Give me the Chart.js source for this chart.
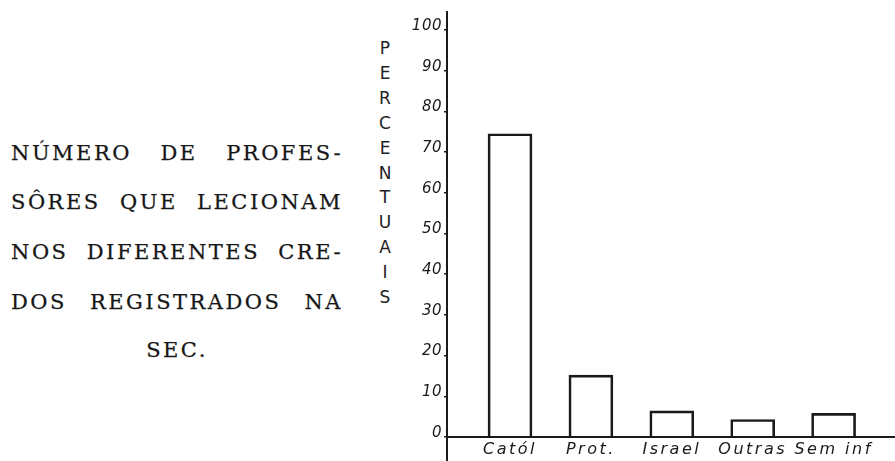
<!DOCTYPE html>
<html>
<head>
<meta charset="utf-8">
<script src="https://cdn.jsdelivr.net/npm/chart.js@4.4.0/dist/chart.umd.min.js"></script>
<style>
  html, body { margin: 0; padding: 0; background: #fff; }
  #wrap { position: relative; width: 895px; height: 461px; overflow: hidden; }
  #grafico { position: absolute; left: 0; top: 0; }
  .titulo {
    position: absolute; left: 11px; width: 332px; height: 24px;
    font-family: "DejaVu Serif", serif; font-size: 21px; line-height: 24px;
    letter-spacing: 2.5px; color: #161616; -webkit-text-stroke: 0.25px #161616;
    text-align: justify; text-align-last: justify; white-space: nowrap;
  }
  .titulo.ultima { text-align: center; text-align-last: center; }
  #eixo-titulo {
    position: absolute; left: 374px; top: 36px; width: 22px;
    font-family: "DejaVu Sans", sans-serif; font-size: 17px; line-height: 24.9px;
    text-align: center; color: #222;
  }
</style>
</head>
<body>
<div id="wrap">
  <div class="titulo" style="top:141px">NÚMERO DE PROFES-</div>
  <div class="titulo" style="top:190px">SÔRES QUE LECIONAM</div>
  <div class="titulo" style="top:240px">NOS DIFERENTES CRE-</div>
  <div class="titulo" style="top:290px">DOS REGISTRADOS NA</div>
  <div class="titulo ultima" style="top:338px">SEC.</div>
  <div id="eixo-titulo">P<br>E<br>R<br>C<br>E<br>N<br>T<br>U<br>A<br>I<br>S</div>
  <canvas id="grafico" width="895" height="461"></canvas>
</div>
<script>
// dados
const categorias = ['Catól', 'Prot.', 'Israel', 'Outras', 'Sem inf'];
const percentuais = [74.5, 15.2, 6.4, 4.3, 5.8];
const marcasY = [0, 10, 20, 30, 40, 50, 60, 70, 80, 90, 100];

const xMin = 0.221;
const xMax = 5.759;

// espaco entre letras so nos rotulos de baixo (desenhados depois das barras)
const espacamento = {
    id: 'espacamento',
    beforeDraw(chart) { chart.ctx.letterSpacing = '0.5px'; },
    afterDatasetsDraw(chart) { chart.ctx.letterSpacing = '2.5px'; }
};

const ctx = document.getElementById('grafico').getContext('2d');
const grafico = new Chart(ctx, {
    type: 'bar',
    data: {
        datasets: [{
            data: categorias.map((c, i) => ({ x: i + 1, y: percentuais[i] })),
            backgroundColor: 'rgba(255, 255, 255, 0)',
            borderColor: '#1a1a1a',
            borderWidth: 2,
            borderSkipped: 'bottom',
            barThickness: 44
        }]
    },
    options: {
        responsive: false,
        animation: false,
        layout: { padding: { top: 12, left: 0, right: 0, bottom: 0 } },
        plugins: {
            legend: { display: false },
            tooltip: { enabled: false }
        },
        scales: {
            x: {
                type: 'linear',
                offset: false,
                bounds: 'data',
                min: xMin,
                max: xMax,
                afterFit: (scale) => { scale.height = 24; },
                afterBuildTicks: (scale) => {
                    // marca extra no inicio: prolonga o eixo vertical abaixo do zero
                    scale.ticks = [{ value: xMin }].concat(categorias.map((c, i) => ({ value: i + 1 })));
                },
                grid: {
                    display: true,
                    drawOnChartArea: false,
                    drawTicks: true,
                    tickLength: 24,
                    offset: false,
                    lineWidth: 2,
                    color: (c) => (c.tick && c.tick.value < 1 ? '#1a1a1a' : 'rgba(0,0,0,0)')
                },
                border: { display: true, color: '#1a1a1a', width: 2 },
                ticks: {
                    z: 1,
                    padding: -21,
                    autoSkip: false,
                    maxRotation: 0,
                    color: '#1a1a1a',
                    font: { family: '"DejaVu Sans"', style: 'italic', size: 16 },
                    callback: (v) => (v < 1 ? '' : categorias[v - 1])
                }
            },
            y: {
                bounds: 'data',
                min: 0,
                max: 104.4,
                afterFit: (scale) => { scale.width = 447; },
                afterBuildTicks: (scale) => {
                    scale.ticks = marcasY.map(v => ({ value: v }));
                },
                grid: {
                    drawOnChartArea: false,
                    drawTicks: true,
                    tickLength: 3,
                    color: '#1a1a1a',
                    lineWidth: 1.5
                },
                border: { display: true, color: '#1a1a1a', width: 2 },
                ticks: {
                    padding: 2,
                    labelOffset: -4,
                    color: '#1a1a1a',
                    font: { family: '"DejaVu Sans"', style: 'italic', size: 15 }
                }
            }
        }
    },
    plugins: [espacamento]
});
</script>
</body>
</html>
